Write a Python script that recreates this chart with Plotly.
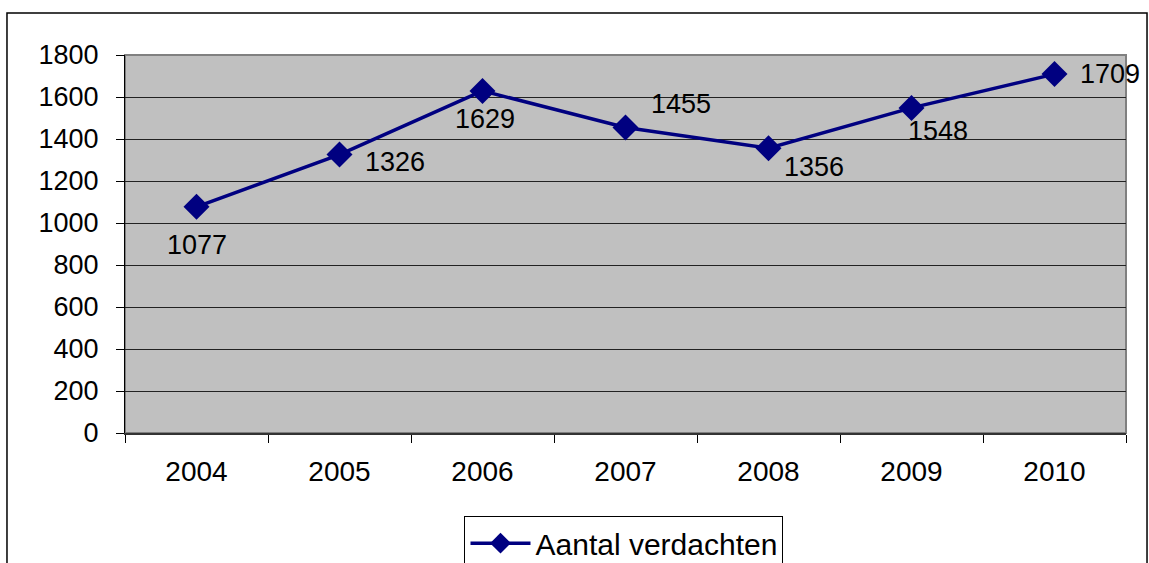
import plotly.graph_objects as go

years = ["2004", "2005", "2006", "2007", "2008", "2009", "2010"]
verdachten = [1077, 1326, 1629, 1455, 1356, 1548, 1709]
series_name = "Aantal verdachten"
y_ticks = [0, 200, 400, 600, 800, 1000, 1200, 1400, 1600, 1800]

# label offsets (px) relative to each marker, mimicking the original placement
label_dx = [0, 55, 2, 55, 45, 26, 55]
label_dy = [-38, -7, -28, 23, -19, -23, 0]

FONT = "Liberation Sans, Arial, sans-serif"
NAVY = "#000080"

fig = go.Figure()
fig.add_trace(go.Scatter(
    x=years, y=verdachten, mode="lines+markers", name=series_name,
    line=dict(color=NAVY, width=3.5),
    marker=dict(symbol="diamond", size=20, color=NAVY),
    showlegend=True,
))

for i, (y, dx, dy) in enumerate(zip(verdachten, label_dx, label_dy)):
    fig.add_annotation(x=i, y=y, text=str(y), showarrow=False,
                       xshift=dx, yshift=dy,
                       font=dict(family=FONT, size=27, color="black"))

# plot-area border (gray) and outer chart border
fig.add_shape(type="rect", xref="paper", yref="paper", x0=0, x1=1, y0=0, y1=1,
              line=dict(color="#808080", width=2), layer="below")
fig.add_shape(type="rect", xref="paper", yref="paper",
              x0=-0.1179, x1=1.021, y0=-0.6, y1=1.111,
              line=dict(color="black", width=1.5))

fig.update_layout(
    width=1149, height=563,
    margin=dict(l=125, r=23, t=55, b=130, autoexpand=False),
    paper_bgcolor="white", plot_bgcolor="#C0C0C0",
    font=dict(family=FONT, size=27, color="black"),
    showlegend=True,
    legend=dict(orientation="h", x=0.4985, xanchor="center", y=-0.22, yanchor="top",
                bordercolor="black", borderwidth=1, bgcolor="white",
                font=dict(family=FONT, size=30), itemwidth=60),
)
fig.update_xaxes(type="category", range=[-0.5, 6.5], automargin=False,
                 showgrid=False, showline=True, linecolor="#333333",
                 linewidth=2, ticks="outside", tickson="boundaries", ticklen=8,
                 tickcolor="black", ticklabelstandoff=12, tickangle=0,
                 tickfont=dict(family=FONT, size=28))
fig.update_yaxes(range=[0, 1800], tickvals=y_ticks, automargin=False,
                 showgrid=True, gridcolor="#222222",
                 gridwidth=1, showline=True, linecolor="black", linewidth=1,
                 ticks="outside", ticklen=8, tickcolor="black", zeroline=False,
                 ticklabelstandoff=12, tickfont=dict(family=FONT, size=27))

fig.write_html(
    "out.html",
    config={"displayModeBar": False},
    post_script="document.body.style.margin='0';document.body.style.overflow='hidden';",
)
